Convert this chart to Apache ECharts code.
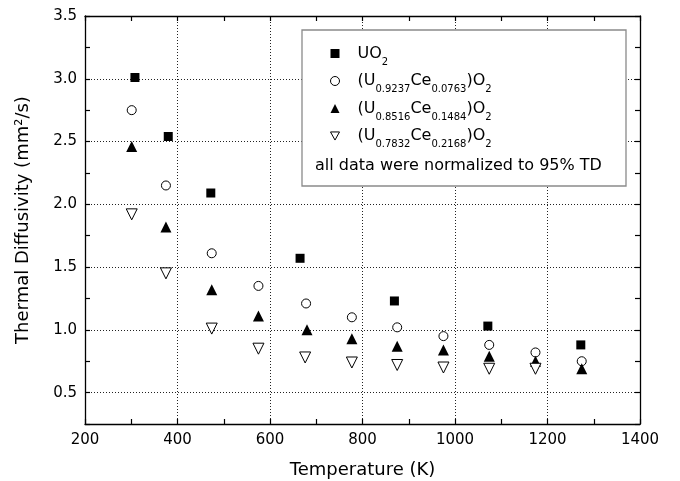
<!DOCTYPE html>
<html>
<head>
<meta charset="utf-8">
<script src="https://cdn.jsdelivr.net/npm/echarts@6/dist/echarts.min.js"></script>
<style>html,body{margin:0;padding:0;background:#fff;}#chart{width:680px;height:481px;}</style>
</head>
<body>
<div id="chart"></div>
<script>
// ---- data ----
const seriesNames = ['UO2', '(U0.9237Ce0.0763)O2', '(U0.8516Ce0.1484)O2', '(U0.7832Ce0.2168)O2'];
// alternating normal / subscript parts of each legend label
const legendParts = [
  ['UO', '2'],
  ['(U', '0.9237', 'Ce', '0.0763', ')O', '2'],
  ['(U', '0.8516', 'Ce', '0.1484', ')O', '2'],
  ['(U', '0.7832', 'Ce', '0.2168', ')O', '2']
];
const noteText = 'all data were normalized to 95% TD';

const uo2T = [308, 380, 472, 665, 869, 1071, 1272];
const uo2D = [3.01, 2.54, 2.09, 1.57, 1.23, 1.03, 0.88];

const ce0763T = [301, 375, 474, 575, 678, 777, 875, 975, 1074, 1174, 1274];
const ce0763D = [2.75, 2.15, 1.61, 1.35, 1.21, 1.10, 1.02, 0.95, 0.88, 0.82, 0.75];

const ce1484T = [301, 375, 474, 575, 680, 777, 875, 975, 1074, 1174, 1274];
const ce1484D = [2.46, 1.82, 1.32, 1.11, 1.00, 0.93, 0.87, 0.84, 0.79, 0.75, 0.69];

const ce2168T = [301, 375, 474, 575, 676, 777, 875, 975, 1074, 1174];
const ce2168D = [1.92, 1.45, 1.01, 0.85, 0.78, 0.74, 0.72, 0.70, 0.69, 0.69];

const xMin = 200, xMax = 1400, xStep = 200;
const yMin = 0.25, yMax = 3.5, yTickStep = 0.25, yLabelStep = 0.5;

function pairs(xs, ys) { return xs.map((x, i) => [x, ys[i]]); }

const FONT = 'DejaVu Sans';
const chart = echarts.init(document.getElementById('chart'), null, {renderer: 'canvas'});

const axisLine = {show: true, onZero: false, lineStyle: {color: '#000', width: 1.3}};
const tickIn = {show: true, inside: true, length: 5, lineStyle: {color: '#000', width: 1.2}};
const gridDots = {show: true, lineStyle: {color: '#222', width: 1, type: [1, 2]}};

const filled = {color: '#000', opacity: 1};
const hollow = {color: '#fff', borderColor: '#000', borderWidth: 1, opacity: 1};
const invTriPath = 'path://M0,0 L10,0 L5,9 Z';

const option = {
  backgroundColor: '#fff',
  animation: false,
  textStyle: {fontFamily: FONT, color: '#000'},
  grid: {left: 85, right: 40, top: 16, bottom: 57, containLabel: false, outerBoundsMode: 'none'},
  xAxis: [
    {
      type: 'value', position: 'bottom', min: xMin, max: xMax, interval: xStep,
      axisLine: axisLine, axisTick: tickIn,
      minorTick: {show: true, splitNumber: 2, length: 5, lineStyle: {color: '#000', width: 1.2}},
      axisLabel: {show: true, margin: 9, fontSize: 15, color: '#000', fontFamily: FONT,
        formatter: function (v) { return String(v); }},
      splitLine: gridDots,
      name: 'Temperature (K)', nameLocation: 'middle', nameGap: 37,
      nameTextStyle: {fontSize: 18, color: '#000', fontFamily: FONT}
    },
    {
      type: 'value', position: 'top', min: xMin, max: xMax, interval: xStep,
      axisLine: axisLine, axisTick: tickIn,
      minorTick: {show: true, splitNumber: 2, length: 5, lineStyle: {color: '#000', width: 1.2}},
      axisLabel: {show: false}, splitLine: {show: false}
    }
  ],
  yAxis: [
    {
      type: 'value', position: 'left', min: yMin, max: yMax, interval: yTickStep,
      axisLine: axisLine, axisTick: tickIn,
      axisLabel: {
        show: true, margin: 8, fontSize: 15, color: '#000', fontFamily: FONT,
        formatter: function (v) {
          const k = v / yLabelStep;
          return Math.abs(k - Math.round(k)) < 1e-6 ? v.toFixed(1) : '';
        }
      },
      splitLine: {show: false},
      name: 'Thermal Diffusivity (mm²/s)', nameLocation: 'middle', nameGap: 53, nameRotate: 90,
      nameTextStyle: {fontSize: 18, color: '#000', fontFamily: FONT}
    },
    {
      type: 'value', position: 'right', min: yMin, max: yMax, interval: yTickStep,
      axisLine: axisLine, axisTick: tickIn,
      axisLabel: {show: false}, splitLine: {show: false}
    },
    {
      type: 'value', position: 'left', min: yMin, max: yMax, splitNumber: 6,
      axisLine: {show: false}, axisTick: {show: false}, axisLabel: {show: false},
      splitLine: gridDots
    }
  ],
  legend: {
    orient: 'vertical', left: 330, top: 40, padding: 0, itemGap: 0.5,
    itemWidth: 9, itemHeight: 9, z: 5,
    data: [
      {name: seriesNames[0], icon: 'rect', itemStyle: filled},
      {name: seriesNames[1], icon: 'circle', itemStyle: hollow},
      {name: seriesNames[2], icon: 'triangle', itemStyle: filled},
      {name: seriesNames[3], icon: invTriPath, itemStyle: hollow}
    ],
    textStyle: {
      fontFamily: FONT, color: '#000', fontSize: 16,
      rich: {
        g: {width: 13, lineHeight: 28},
        m: {fontFamily: FONT, fontSize: 16, lineHeight: 28, color: '#000'},
        s: {fontFamily: FONT, fontSize: 10, lineHeight: 10, padding: [17, 0, 0, 0], color: '#000'}
      }
    },
    formatter: function (name) {
      const parts = legendParts[seriesNames.indexOf(name)];
      return '{g|}' + parts.map((p, i) => (i % 2 === 0 ? '{m|' + p + '}' : '{s|' + p + '}')).join('');
    }
  },
  graphic: [
    {type: 'rect', z: 3, shape: {x: 302, y: 30, width: 324, height: 156},
     style: {fill: '#fff', stroke: '#8a8a8a', lineWidth: 1.3}},
    {type: 'text', z: 6, style: {text: noteText, x: 315, y: 166, verticalAlign: 'middle',
      font: '16px "DejaVu Sans"', fill: '#000'}}
  ],
  series: [
    {name: seriesNames[0], type: 'scatter', data: pairs(uo2T, uo2D), symbol: 'rect', symbolSize: 9,
     itemStyle: filled},
    {name: seriesNames[1], type: 'scatter', data: pairs(ce0763T, ce0763D), symbol: 'circle', symbolSize: 9,
     itemStyle: hollow},
    {name: seriesNames[2], type: 'scatter', data: pairs(ce1484T, ce1484D), symbol: 'triangle', symbolSize: 11,
     itemStyle: filled},
    {name: seriesNames[3], type: 'scatter', data: pairs(ce2168T, ce2168D), symbol: 'triangle', symbolSize: 11,
     symbolRotate: 180, itemStyle: hollow}
  ]
};
chart.setOption(option);
</script>
</body>
</html>
